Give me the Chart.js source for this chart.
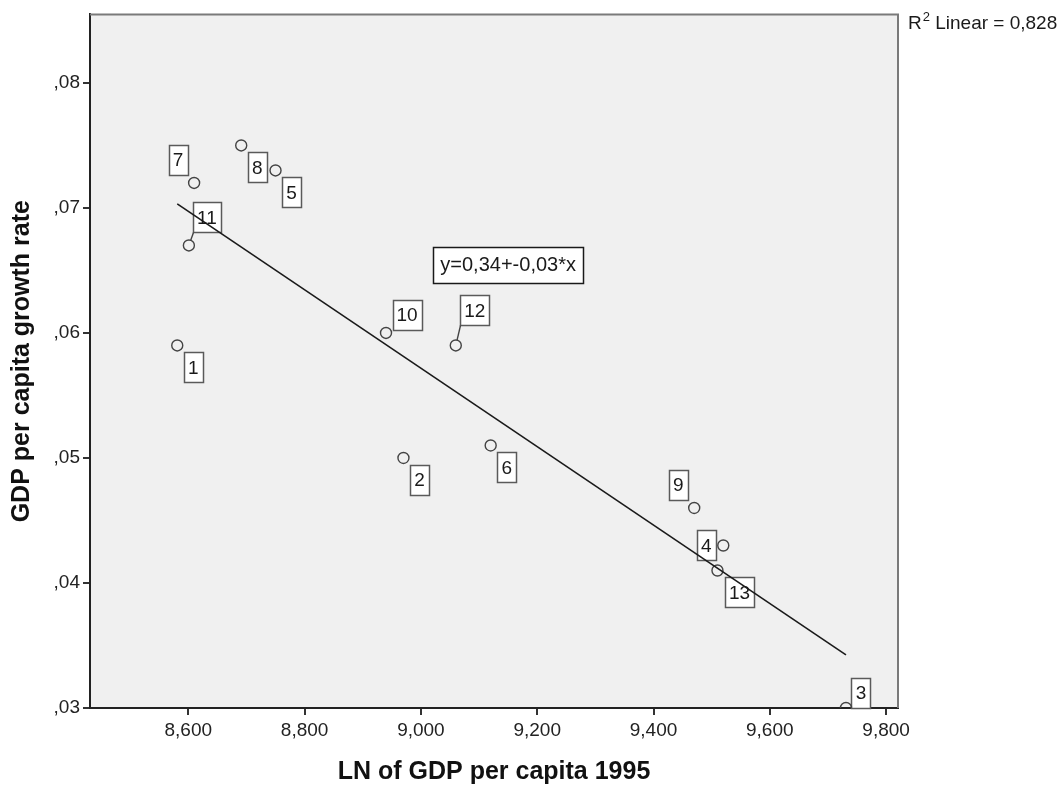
<!DOCTYPE html>
<html>
<head>
<meta charset="utf-8">
<script src="https://cdn.jsdelivr.net/npm/chart.js@4.4.0/dist/chart.umd.min.js"></script>
<style>
  html, body { margin: 0; padding: 0; background: #ffffff; }
  #wrap { width: 1059px; height: 790px; }
</style>
</head>
<body>
<div id="wrap"><canvas id="c" width="1059" height="790"></canvas></div>
<script>
// Case numbers and their values
const caseIds    = [1, 2, 3, 4, 5, 6, 7, 8, 9, 10, 11, 12, 13];
const lnGdp1995  = [8.581, 8.970, 9.731, 9.520, 8.750, 9.120, 8.610, 8.691, 9.470, 8.940, 8.601, 9.060, 9.510];
const growthRate = [0.059, 0.050, 0.030, 0.043, 0.073, 0.051, 0.072, 0.075, 0.046, 0.060, 0.067, 0.059, 0.041];

// Axis tick values
const xTicks = [8.6, 8.8, 9.0, 9.2, 9.4, 9.6, 9.8];
const yTicks = [0.03, 0.04, 0.05, 0.06, 0.07, 0.08];

const FONT = '"Liberation Sans", Arial, Helvetica, sans-serif';

// Where each case-number box sits relative to its marker (pixels)
const labelPlacement = {
  1:  { dx: 16,  dy: 22 },
  2:  { dx: 16,  dy: 22 },
  3:  { dx: 15,  dy: -15 },
  4:  { dx: -17, dy: 0 },
  5:  { dx: 16,  dy: 22 },
  6:  { dx: 16,  dy: 22 },
  7:  { dx: -16, dy: -23 },
  8:  { dx: 16,  dy: 22 },
  9:  { dx: -16, dy: -23 },
  10: { dx: 21,  dy: -18 },
  11: { dx: 18,  dy: -28, leader: true },
  12: { dx: 19,  dy: -35, leader: true },
  13: { dx: 22,  dy: 22 }
};

// Ordinary least squares fit of growth on log GDP
const n = lnGdp1995.length;
const meanX = lnGdp1995.reduce((s, v) => s + v, 0) / n;
const meanY = growthRate.reduce((s, v) => s + v, 0) / n;
let sxy = 0, sxx = 0, syy = 0;
for (let i = 0; i < n; i++) {
  const dx = lnGdp1995[i] - meanX, dy = growthRate[i] - meanY;
  sxy += dx * dy; sxx += dx * dx; syy += dy * dy;
}
const slope = sxy / sxx;
const intercept = meanY - slope * meanX;
const rSquared = (sxy * sxy) / (sxx * syy);
const fitAt = x => intercept + slope * x;
const xLo = Math.min(...lnGdp1995), xHi = Math.max(...lnGdp1995);

const comma = (v, d) => v.toFixed(d).replace('.', ',');
const equationText = 'y=' + comma(intercept, 2) + '+' + comma(slope, 2) + '*x';

function drawBox(ctx, cx, cy, text, size, padX, h, stroke) {
  ctx.font = size + 'px ' + FONT;
  const w = Math.round(ctx.measureText(text).width + padX * 2);
  const x = Math.round(cx - w / 2) + 0.5, y = Math.round(cy - h / 2) + 0.5;
  ctx.fillStyle = '#ffffff';
  ctx.fillRect(x, y, w, h);
  ctx.strokeStyle = stroke;
  ctx.lineWidth = 1.5;
  ctx.strokeRect(x, y, w, h);
  ctx.fillStyle = '#1a1a1a';
  ctx.textAlign = 'center';
  ctx.textBaseline = 'middle';
  ctx.fillText(text, cx, cy + 1);
  return { x, y, w, h };
}

const spssDecor = {
  id: 'spssDecor',
  beforeDraw(chart) {
    const { ctx, chartArea: a } = chart;
    ctx.save();
    ctx.fillStyle = '#f0f0f0';
    ctx.fillRect(a.left, a.top, a.right - a.left, a.bottom - a.top);
    ctx.restore();
  },
  beforeDatasetsDraw(chart) {
    const { ctx, chartArea: a } = chart;
    const xs = chart.scales.x, ys = chart.scales.y;
    ctx.save();
    // case-number boxes
    caseIds.forEach((id, i) => {
      const px = xs.getPixelForValue(lnGdp1995[i]);
      const py = ys.getPixelForValue(growthRate[i]);
      const p = labelPlacement[id];
      const cx = px + p.dx, cy = py + p.dy;
      const b = drawBox(ctx, cx, cy, String(id), 19, 4, 30, '#5a5a5a');
      if (p.leader) {
        // short connector from the marker edge to the nearest box corner
        const cornerX = p.dx > 0 ? b.x : b.x + b.w;
        const cornerY = p.dy > 0 ? b.y : b.y + b.h;
        const vx = cornerX - px, vy = cornerY - py;
        const len = Math.hypot(vx, vy);
        ctx.beginPath();
        ctx.moveTo(px + vx / len * 5.5, py + vy / len * 5.5);
        ctx.lineTo(cornerX, cornerY);
        ctx.strokeStyle = '#444';
        ctx.lineWidth = 1.4;
        ctx.stroke();
      }
    });
    // fit equation box
    const ex = a.left + (a.right - a.left) * 0.5175;
    const ey = a.top + (a.bottom - a.top) * 0.3607;
    drawBox(ctx, ex, ey, equationText, 20, 7, 36, '#1a1a1a');
    ctx.restore();
  },
  afterDraw(chart) {
    const { ctx, chartArea: a } = chart;
    ctx.save();
    // frame on top and right
    ctx.strokeStyle = '#7a7a7a';
    ctx.lineWidth = 2;
    ctx.beginPath();
    ctx.moveTo(a.left, a.top);
    ctx.lineTo(a.right, a.top);
    ctx.lineTo(a.right, a.bottom);
    ctx.stroke();
    // fit legend
    ctx.fillStyle = '#1a1a1a';
    ctx.textBaseline = 'alphabetic';
    ctx.textAlign = 'left';
    let tx = a.right + 10;
    const base = 29;
    ctx.font = '19px ' + FONT;
    ctx.fillText('R', tx, base);
    tx += ctx.measureText('R').width + 1;
    ctx.font = '13px ' + FONT;
    ctx.fillText('2', tx, base - 8);
    tx += ctx.measureText('2').width;
    ctx.font = '19px ' + FONT;
    ctx.fillText(' Linear = ' + comma(rSquared, 3), tx, base);
    ctx.restore();
  }
};

new Chart(document.getElementById('c'), {
  type: 'scatter',
  data: {
    datasets: [
      {
        data: [{ x: xLo, y: fitAt(xLo) }, { x: xHi, y: fitAt(xHi) }],
        showLine: true,
        borderColor: '#1a1a1a',
        borderWidth: 1.6,
        pointRadius: 0,
        fill: false,
        clip: 0
      },
      {
        data: caseIds.map((id, i) => ({ x: lnGdp1995[i], y: growthRate[i] })),
        showLine: false,
        pointRadius: 5.5,
        pointBorderWidth: 1.4,
        pointBackgroundColor: 'rgba(0,0,0,0)',
        pointBorderColor: '#444444',
        borderColor: '#444444',
        clip: 0
      }
    ]
  },
  options: {
    responsive: false,
    animation: false,
    devicePixelRatio: 1,
    layout: { padding: { top: 13, right: 161, left: 0, bottom: 0 } },
    plugins: { legend: { display: false }, tooltip: { enabled: false } },
    scales: {
      x: {
        type: 'linear',
        min: 8.43096,
        max: 9.82046,
        afterBuildTicks: s => { s.ticks = xTicks.map(v => ({ value: v })); },
        afterFit: s => { s.height = 82; },
        ticks: {
          callback: v => comma(v, 3),
          font: { family: FONT, size: 19 },
          color: '#222222',
          padding: 4,
          maxRotation: 0,
          autoSkip: false
        },
        grid: { drawOnChartArea: false, drawTicks: true, tickLength: 7, color: '#333333', lineWidth: 2 },
        border: { display: true, color: '#222222', width: 2 },
        title: {
          display: true,
          text: 'LN of GDP per capita 1995',
          font: { family: FONT, size: 25, weight: 'bold' },
          color: '#111111',
          padding: { top: 0, bottom: 3 }
        }
      },
      y: {
        type: 'linear',
        min: 0.03,
        max: 0.085485,
        afterBuildTicks: s => { s.ticks = yTicks.map(v => ({ value: v })); },
        afterFit: s => { s.width = 90; },
        ticks: {
          callback: v => v.toFixed(2).replace(/^0\./, ','),
          font: { family: FONT, size: 19 },
          color: '#222222',
          padding: 3,
          autoSkip: false
        },
        grid: { drawOnChartArea: false, drawTicks: true, tickLength: 7, color: '#333333', lineWidth: 2 },
        border: { display: true, color: '#222222', width: 2 },
        title: {
          display: true,
          text: 'GDP per capita growth rate',
          font: { family: FONT, size: 25, weight: 'bold' },
          color: '#111111',
          padding: { top: 7, bottom: 0 }
        }
      }
    }
  },
  plugins: [spssDecor]
});
</script>
</body>
</html>
